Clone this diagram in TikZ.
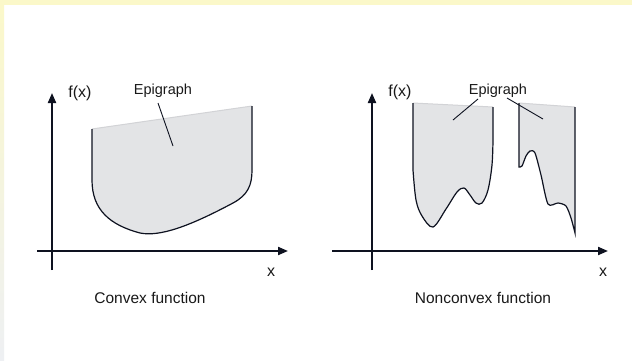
\documentclass[tikz,border=0pt]{standalone}
\usepackage{fontspec}
\setmainfont{Liberation Sans}
\usetikzlibrary{arrows.meta}
\definecolor{epi}{HTML}{E3E4E6}
\definecolor{epiedge}{HTML}{D2D3D6}
\definecolor{axiscol}{HTML}{0E1220}
\definecolor{bandyel}{HTML}{FBF8C9}
\definecolor{bandgray}{HTML}{EEF0F3}
\tikzset{
  axis/.style={line width=2pt, draw=axiscol, -{Triangle[length=10pt,width=8pt]}},
  curve/.style={line width=1.2pt, draw=axiscol},
  topedge/.style={line width=1pt, draw=epiedge},
  leader/.style={line width=0.9pt, draw=axiscol},
  lab/.style={font=\fontsize{14.5}{16}\selectfont, inner sep=0pt, text=black!90},
  axlab/.style={font=\fontsize{16}{18}\selectfont, inner sep=0pt, text=black!90},
  captext/.style={font=\fontsize{15.5}{18}\selectfont, inner sep=0pt, text=black!90},
}
\begin{document}
\begin{tikzpicture}[x=1pt,y=-1pt]
\useasboundingbox (0,0) rectangle (632,360);
\fill[white] (0,0) rectangle (632,360);
\fill[bandyel] (0,0) rectangle (632,5);
\shade[top color=bandyel, bottom color=bandgray] (0,0) rectangle (4,360);

% ---------- left panel ----------
\fill[epi] (92,129) -- (92,180) .. controls (92,210) and (110,225) .. (140,233)
  .. controls (160,237) and (190,226) .. (233,203)
  .. controls (248,195) and (252,185) .. (252,170) -- (252,106) -- cycle;
\draw[topedge] (92,129) -- (252,106);
\draw[curve] (92,129) -- (92,180) .. controls (92,210) and (110,225) .. (140,233)
  .. controls (160,237) and (190,226) .. (233,203)
  .. controls (248,195) and (252,185) .. (252,170) -- (252,106);

\coordinate (yb1) at (52,270);
\coordinate (yt1) at (52,93);
\coordinate (xl1) at (37,251);
\coordinate (xr1) at (288,251);
\draw[axis] (yb1) -- (yt1);
\draw[axis] (xl1) -- (xr1);

\node[axlab] (fx1) at (80,93) {f(x)};
\node[lab] (epi1) at (163,91) {Epigraph};
\coordinate (pin1s) at (158,103);
\coordinate (pin1) at (173,146);
\draw[leader] (pin1s) -- (pin1);
\node[axlab] (xlab1) at (271,272) {x};
\node[captext] (cap1) at (150,298) {Convex function};

% ---------- right panel ----------
\fill[epi] (413,103) -- plot[smooth, tension=0.55] coordinates {(413,170) (416,200) (422,216) (433,227) (446,209) (457,192) (464,188) (470,195) (476,203) (482,203) (488,190) (492,165) (493,140)} -- (493,107) -- cycle;
\draw[topedge] (413,103) -- (493,107);
\draw[curve] (413,103) -- plot[smooth, tension=0.55] coordinates {(413,170) (416,200) (422,216) (433,227) (446,209) (457,192) (464,188) (470,195) (476,203) (482,203) (488,190) (492,165) (493,140)} -- (493,107);

\fill[epi] (519,103) -- plot[smooth, tension=0.45] coordinates {(519,167) (522,166) (526,156) (530,151) (535,153) (541,175) (548,204) (558,203) (566,206) (571,218) (575,233)} -- (575,107) -- cycle;
\draw[topedge] (519,103) -- (575,107);
\draw[curve] (519,103) -- plot[smooth, tension=0.45] coordinates {(519,167) (522,166) (526,156) (530,151) (535,153) (541,175) (548,204) (558,203) (566,206) (571,218) (575,233)} -- (575,107);

\coordinate (yb2) at (372,270);
\coordinate (yt2) at (372,93);
\coordinate (xl2) at (332,251);
\coordinate (xr2) at (608,251);
\draw[axis] (yb2) -- (yt2);
\draw[axis] (xl2) -- (xr2);

\node[axlab] (fx2) at (400,92) {f(x)};
\node[lab] (epi2) at (498,91) {Epigraph};
\coordinate (pin2as) at (478,99);
\coordinate (pin2bs) at (507,98);
\coordinate (pin2a) at (453,120);
\coordinate (pin2b) at (543,119);
\draw[leader] (pin2as) -- (pin2a);
\draw[leader] (pin2bs) -- (pin2b);
\node[axlab] (xlab2) at (603,272) {x};
\node[captext] (cap2) at (483,298) {Nonconvex function};
\end{tikzpicture}
\end{document}
